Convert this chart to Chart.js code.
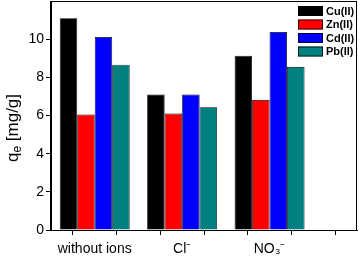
<!DOCTYPE html>
<html>
<head>
<meta charset="utf-8">
<script src="https://cdn.jsdelivr.net/npm/chart.js@4.4.1/dist/chart.umd.min.js"></script>
<style>
  body { margin: 0; background: #fff; }
</style>
</head>
<body>
<canvas id="qe_bar" width="359" height="257"></canvas>
<script>
// categories on the x axis (placed at 0,1,2 on a linear scale)
var categories = ["without ions", "Cl\u207B", "NO\u2083\u207B"];
var seriesNames = ["Cu(II)", "Zn(II)", "Cd(II)", "Pb(II)"];
var seriesColors = ["#000000", "#ff0000", "#0000ff", "#008080"];
var cuValues = [11.1, 7.1, 9.13];
var znValues = [6.05, 6.1, 6.82];
var cdValues = [10.12, 7.1, 10.38];
var pbValues = [8.66, 6.43, 8.55];
var yTickLabels = [0, 2, 4, 6, 8, 10];

var allValues = [cuValues, znValues, cdValues, pbValues];
var datasets = [];
seriesNames.forEach(function(name, i) {
	var pts = [];
	allValues[i].forEach(function(v, j) {
		pts.push({x: j, y: v});
	});
	datasets.push({
		label: name,
		data: pts,
		backgroundColor: seriesColors[i],
		borderColor: "#000",
		borderWidth: 0.8,
		//ticks every 0.5 so the ruler is half a category wide
		categoryPercentage: 1.6,
		barPercentage: 1.0
	});
});

// box round the plot, legend and y title
var framePlugin = {
	id: "frame",
	afterDraw: function(chart) {
		var c = chart.ctx, a = chart.chartArea;
		c.save();
		c.strokeStyle = "#000";
		c.lineWidth = 1;
		c.strokeRect(a.left - 0.5, a.top + 0.5, a.right - a.left, a.bottom - a.top);

		//legend
		var lx = 298, ly = 6, step = 13.5;
		c.font = "bold 11px 'Liberation Sans', Arial, sans-serif";
		c.textBaseline = "middle";
		c.textAlign = "left";
		chart.data.datasets.forEach(function(ds, i) {
			var y = ly + i * step;
			c.fillStyle = ds.backgroundColor;
			c.fillRect(lx, y, 25, 10);
			c.strokeStyle = "#000";
			c.lineWidth = 0.8;
			c.strokeRect(lx + 0.5, y + 0.5, 24, 9);
			c.fillStyle = "#000";
			c.fillText(ds.label, lx + 28, y + 5.5);
		});

		//y title  q_e [mg/g]
		c.translate(13, 128);
		c.rotate(-Math.PI / 2);
		c.fillStyle = "#000";
		c.textBaseline = "middle";
		var big = "17px 'Liberation Sans', Arial, sans-serif";
		var small = "12px 'Liberation Sans', Arial, sans-serif";
		c.font = big;
		var w1 = c.measureText("q").width;
		var w3 = c.measureText(" [mg/g]").width;
		c.font = small;
		var w2 = c.measureText("e").width;
		var x0 = -(w1 + w2 + w3) / 2;
		c.font = big;
		c.fillText("q", x0, 0);
		c.font = small;
		c.fillText("e", x0 + w1, 5);
		c.font = big;
		c.fillText(" [mg/g]", x0 + w1 + w2, 0);
		c.restore();
	}
};

var ctx = document.getElementById("qe_bar").getContext("2d");
var qeChart = new Chart(ctx, {
	type: "bar",
	data: { datasets: datasets },
	options: {
		responsive: false,
		animation: false,
		layout: { padding: { top: 1, right: 2, left: 0, bottom: 0 } },
		plugins: { legend: { display: false }, tooltip: { enabled: false } },
		scales: {
			x: {
				type: "linear",
				min: -0.5,
				max: 3.0,
				offset: false,
				afterFit: function(s) { s.height = 27; s.paddingLeft = 0; s.paddingRight = 0; },
				border: { color: "#000", width: 1 },
				grid: { drawOnChartArea: false, tickLength: 5, color: "#000" },
				ticks: {
					stepSize: 0.5,
					autoSkip: false,
					maxRotation: 0,
					padding: 6,
					color: "#000",
					font: { family: "'Liberation Sans', Arial, sans-serif", size: 14 },
					callback: function(v) {
						return Number.isInteger(v) && v >= 0 && v < categories.length ? categories[v] : "";
					}
				}
			},
			y: {
				min: 0,
				max: 12,
				afterFit: function(s) { s.width = 51; s.paddingTop = 0; s.paddingBottom = 0; },
				border: { color: "#000", width: 1 },
				grid: {
					drawOnChartArea: false,
					tickLength: 5,
					color: function(c) { return c.tick && c.tick.value === 12 ? "rgba(0,0,0,0)" : "#000"; }
				},
				ticks: {
					stepSize: 1,
					padding: 2,
					color: "#000",
					font: { family: "'Liberation Sans', Arial, sans-serif", size: 14 },
					callback: function(v) {
						return yTickLabels.indexOf(v) >= 0 ? String(v) : "";
					}
				}
			}
		}
	},
	plugins: [framePlugin]
});
</script>
</body>
</html>
